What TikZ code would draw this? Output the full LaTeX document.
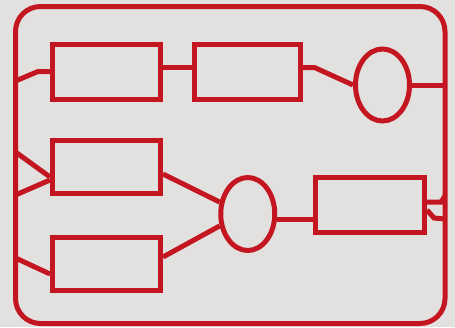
\documentclass[tikz,border=0pt]{standalone}
\usepackage{tikz}
\usetikzlibrary{positioning,shapes.geometric,calc}
\definecolor{panelred}{RGB}{196,22,32}
\definecolor{paper}{RGB}{226,225,223}

\begin{document}
\begin{tikzpicture}[x=1pt, y=-1pt,
    blk/.style={draw=panelred, line width=5pt, minimum width=108pt, minimum height=55pt, inner sep=0pt},
    oval/.style={draw=panelred, line width=5pt, ellipse, minimum width=54pt, minimum height=72pt, inner sep=0pt},
    wire/.style={draw=panelred, line width=5pt}]
    % Page
    \fill[paper] (0,0) rectangle (455,327);
    \useasboundingbox (0,0) rectangle (455,327);
    % Frame
    \node[draw=panelred, line width=5pt, rounded corners=25pt, minimum width=429.5pt, minimum height=317pt, inner sep=0pt, outer sep=0pt] (frame) at (230.25,165) {};
    % Blocks
    \node[blk] (A) at (106.5,71.5) {};
    \node[blk, minimum width=106pt] (B) at (247,71.5) {};
    \node[oval] (O1) at (382.5,85) {};
    \node[blk, minimum height=53.5pt] (C) at (106.5,167) {};
    \node[blk, minimum height=53pt] (D) at (106.5,264) {};
    \node[oval, minimum height=73pt] (O2) at (247.75,214) {};
    \node[blk, minimum width=109pt] (E) at (370,205) {};
    % Points on the frame
    \coordinate (inA) at (15.5,81);
    \coordinate (inC1) at (15.5,152);
    \coordinate (inC2) at (15.5,195);
    \coordinate (inD) at (15.5,258);
    \coordinate (outO1) at (445,85);
    \coordinate (outE1) at (445,196);
    \coordinate (outE2) at (445,219);
    % Wires
    \draw[wire] (inA) -- ([xshift=-12pt]A.west) -- (A.west);
    \draw[wire] ([yshift=4pt]A.east) -- ([yshift=4pt]B.west);
    \draw[wire] ([yshift=4pt]B.east) -- ++(12,0) -- (O1.west);
    \draw[wire] (O1.east) -- (outO1);
    \draw[wire] (inC1) -- ([yshift=-10pt]C.west);
    \draw[wire] (inC2) -- ([yshift=-13pt]C.west);
    \draw[wire] ([yshift=-7pt]C.east) -- (O2.157);
    \draw[wire] ([yshift=7pt]D.east) -- (O2.203);
    \draw[wire] (inD) -- ([yshift=-10pt]D.west);
    \draw[wire] (O2.-10) -- (O2.-10 -| E.west);
    \draw[wire] ([yshift=3pt]E.east) -- ++(14,0) -- (outE1);
    \draw[wire] ([yshift=-5pt]E.east) -- ++(7,8) -- (outE2);
\end{tikzpicture}
\end{document}
